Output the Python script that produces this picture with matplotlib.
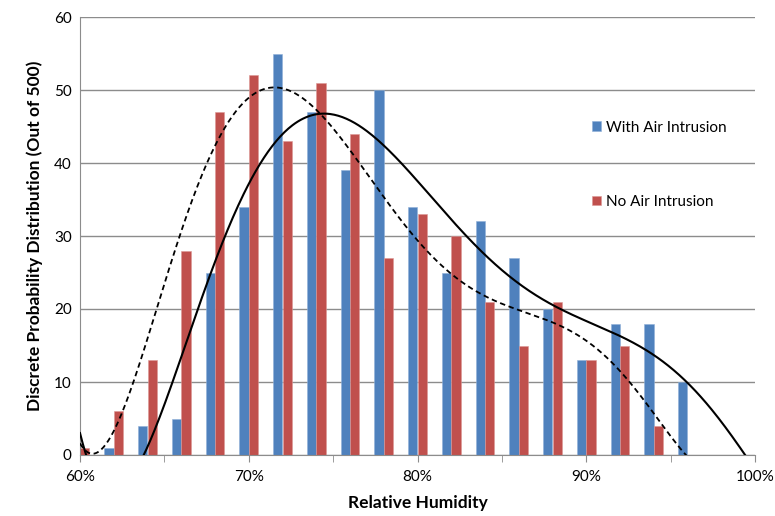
import matplotlib
matplotlib.use("Agg")
import matplotlib.pyplot as plt
import numpy as np

# Relative humidity bins (%)
rh = [60, 62, 64, 66, 68, 70, 72, 74, 76, 78, 80, 82, 84, 86, 88, 90, 92, 94, 96, 98, 100]
with_air = [0, 1, 4, 5, 25, 34, 55, 47, 39, 50, 34, 25, 32, 27, 20, 13, 18, 18, 10, 0, 0]
no_air = [1, 6, 13, 28, 47, 52, 43, 51, 44, 27, 33, 30, 21, 15, 21, 13, 15, 4, 0, None, None]

blue = "#4F81BD"
red = "#C0504D"
grid_col = "#8C8C8C"

plt.rcParams['font.family'] = ['Lato', 'DejaVu Sans']

fig = plt.figure(figsize=(7.75, 5.16), dpi=100)
ax = fig.add_axes([80/775, 1 - 455/516, 675/775, 438/516])

x = np.array(rh, dtype=float)
yb = np.array(with_air, dtype=float)
yr = np.array([np.nan if v is None else v for v in no_air], dtype=float)
w = 0.55
ax.bar(x - w/2, yb, width=w, color=blue, edgecolor="#8FB0D8", lw=0.4,
       label="With Air Intrusion", zorder=2)
ax.bar(x + w/2, np.nan_to_num(yr), width=w, color=red, edgecolor="#DC9896", lw=0.4,
       label="No Air Intrusion", zorder=2)

# polynomial trendlines (order 6) over each series' own x range, blanks left out
ok = ~np.isnan(yr)
p1 = np.polyfit(x, yb, 6)
p2 = np.polyfit(x[ok], yr[ok], 6)
xs1 = np.linspace(x.min(), x.max(), 500)
xs2 = np.linspace(x[ok].min(), x[ok].max() + 0.6, 500)
ax.plot(xs1, np.polyval(p1, xs1), color="black", lw=1.5, zorder=3)
ax.plot(xs2, np.polyval(p2, xs2), color="black", lw=1.3, ls=(0, (3, 2)), zorder=3)

ax.set_xlim(60, 100)
ax.set_ylim(0, 60)
ax.set_xticks(range(60, 101, 10))
ax.set_xticklabels([f"{v}%" for v in range(60, 101, 10)])
ax.set_xticks(range(65, 100, 10), minor=True)
ax.set_yticks(range(0, 61, 10))
ax.yaxis.grid(True, color=grid_col, lw=1, zorder=0)
ax.set_axisbelow(True)
for s in ["top", "right"]:
    ax.spines[s].set_visible(False)
for s in ["left", "bottom"]:
    ax.spines[s].set_color(grid_col)
ax.tick_params(axis="y", length=0, labelsize=11, pad=6)
ax.tick_params(axis="x", which="both", length=5, color=grid_col, labelsize=11, pad=6)

ax.set_xlabel("Relative Humidity", fontsize=12.5, fontweight="bold", labelpad=8)
ax.set_ylabel("Discrete Probability Distribution (Out of 500)", fontsize=12.5,
              fontweight="bold", labelpad=8)

ax.legend(loc="upper left", bbox_to_anchor=(0.738, 0.795), frameon=False, fontsize=11,
          labelspacing=3.95, handlelength=0.6, handleheight=0.6, handletextpad=0.35)

fig.savefig("out.png", dpi=100)
